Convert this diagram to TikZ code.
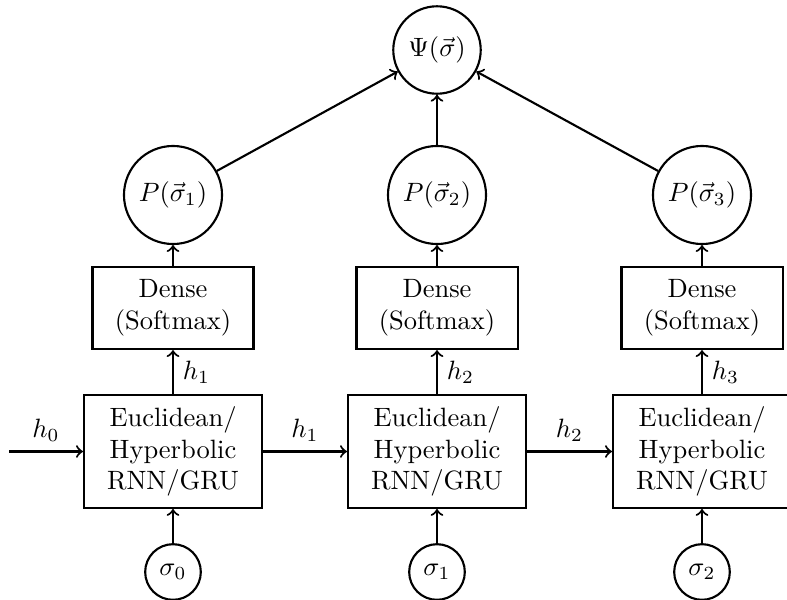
\documentclass[tikz,border=0pt]{standalone}
\begin{document}
\begin{tikzpicture}[x=0.3774pt,y=-0.3774pt,line width=0.8pt,
  circ/.style={draw,circle,inner sep=0pt},
  bigc/.style={circ,minimum size=37pt},
  psic/.style={circ,minimum size=33pt},
  smallc/.style={circ,minimum size=21pt},
  densebox/.style={draw,rectangle,align=center,minimum width=60.8pt,minimum height=31pt,inner sep=2pt},
  rnnbox/.style={draw,rectangle,align=center,minimum width=67.2pt,minimum height=42.6pt,inner sep=2pt},
  arr/.style={->}]
\useasboundingbox (0,0) rectangle (787,600);
\node[psic] (psi) at (437,50) {$\Psi(\vec{\sigma})$};
\foreach \i/\x in {1/173,2/437,3/702}{
  \node[bigc] (p\i) at (\x,195) {$P(\vec{\sigma}_\i)$};
  \node[densebox] (d\i) at (\x,308) {Dense\\(Softmax)};
  \node[rnnbox] (r\i) at (\x,451.5) {Euclidean/\\Hyperbolic\\RNN/GRU};
}
\node[smallc] (s0) at (173,572) {$\sigma_0$};
\node[smallc] (s1) at (437,572) {$\sigma_1$};
\node[smallc] (s2) at (702,572) {$\sigma_2$};
\coordinate (start) at (9,451.5);
\draw[arr] (start) -- node[above] {$h_0$} (r1);
\draw[arr] (r1) -- node[above] {$h_1$} (r2);
\draw[arr] (r2) -- node[above] {$h_2$} (r3);
\draw[arr] (s0) -- (r1);
\draw[arr] (s1) -- (r2);
\draw[arr] (s2) -- (r3);
\draw[arr] (r1) -- node[right] {$h_1$} (d1);
\draw[arr] (r2) -- node[right] {$h_2$} (d2);
\draw[arr] (r3) -- node[right] {$h_3$} (d3);
\foreach \i in {1,2,3}{
  \draw[arr] (d\i) -- (p\i);
  \draw[arr] (p\i) -- (psi);
}
\end{tikzpicture}
\end{document}
